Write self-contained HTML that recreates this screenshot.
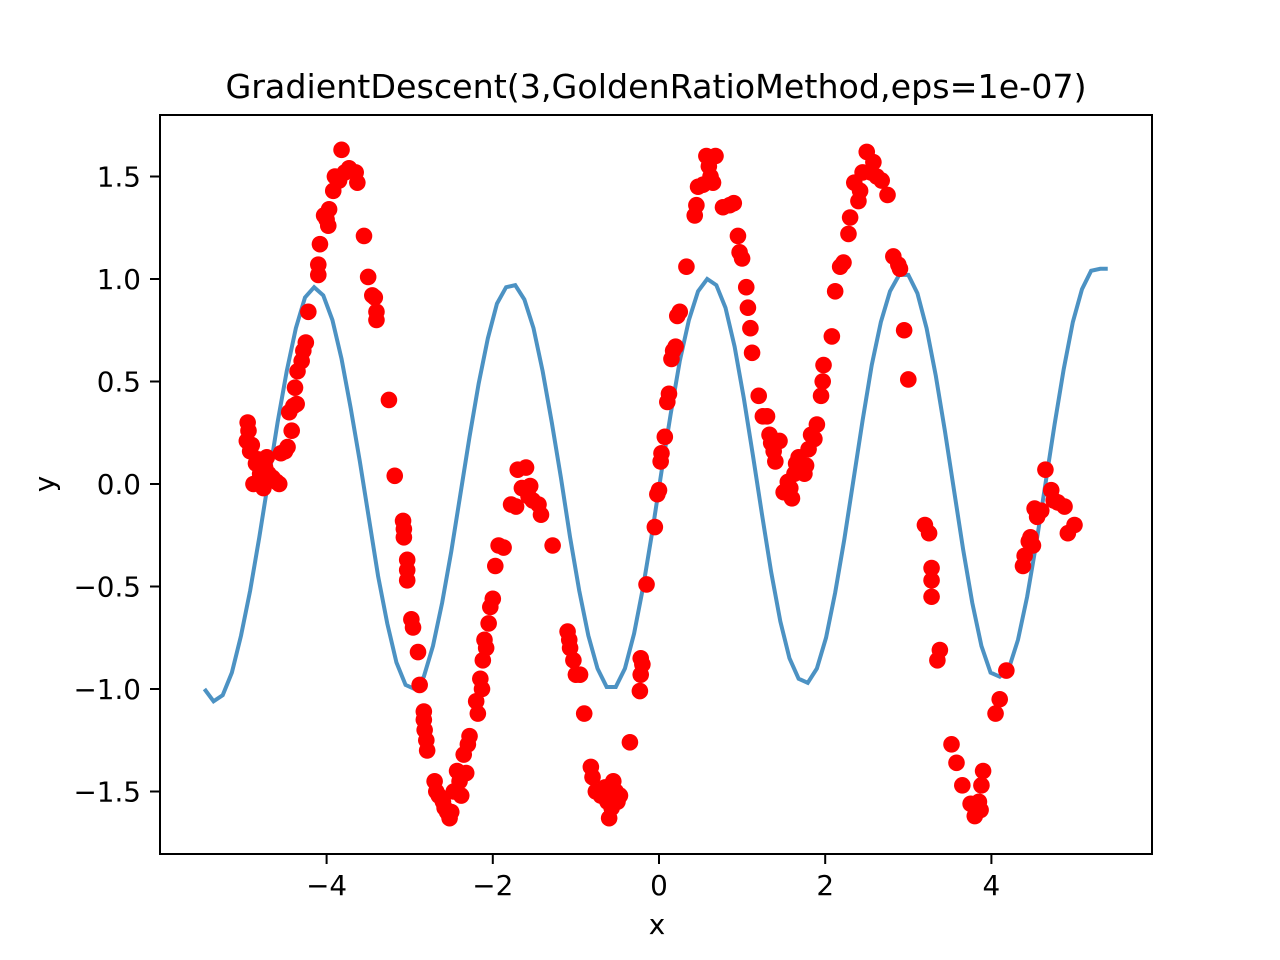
<!DOCTYPE html>
<html><head><meta charset="utf-8"><style>
html,body{margin:0;padding:0;background:#fff;}
svg{display:block;font-family:"DejaVu Sans","Liberation Sans",sans-serif;}
</style></head><body>
<svg id="chart" width="1280" height="960">
<rect x="0" y="0" width="1280" height="960" fill="#fff"/>
<text x="656" y="98" font-size="33.3" text-anchor="middle">GradientDescent(3,GoldenRatioMethod,eps=1e-07)</text>
<g id="xticks"></g>
<g id="yticks"></g>
<g id="plot"></g>
<rect x="160" y="115" width="992" height="739" fill="none" stroke="#000" stroke-width="2"/>
<text x="657" y="934" font-size="27.8" text-anchor="middle">x</text>
<text x="54" y="484" font-size="27.8" text-anchor="middle" transform="rotate(-90 54 484)">y</text>
</svg>
<script>
const xTicks=[-4,-2,0,2,4];
const yTicks=[-1.5,-1.0,-0.5,0.0,0.5,1.0,1.5];
const lineX=[-5.47,-5.36,-5.25,-5.14,-5.03,-4.92,-4.81,-4.7,-4.59,-4.48,-4.37,-4.26,-4.15,-4.04,-3.93,-3.82,-3.71,-3.6,-3.49,-3.38,-3.27,-3.16,-3.05,-2.94,-2.83,-2.72,-2.61,-2.5,-2.39,-2.28,-2.17,-2.06,-1.95,-1.84,-1.73,-1.62,-1.51,-1.4,-1.29,-1.18,-1.07,-0.96,-0.85,-0.74,-0.63,-0.52,-0.41,-0.3,-0.19,-0.08,0.03,0.14,0.25,0.36,0.47,0.58,0.69,0.8,0.91,1.02,1.13,1.24,1.35,1.46,1.57,1.68,1.79,1.9,2.01,2.12,2.23,2.34,2.45,2.56,2.67,2.78,2.89,3.0,3.11,3.22,3.33,3.44,3.55,3.66,3.77,3.88,3.99,4.1,4.21,4.32,4.43,4.54,4.65,4.76,4.87,4.98,5.09,5.2,5.31,5.4];
const lineY=[-1.0,-1.06,-1.03,-0.92,-0.74,-0.52,-0.26,0.02,0.3,0.55,0.76,0.91,0.96,0.92,0.8,0.61,0.37,0.11,-0.17,-0.45,-0.68,-0.87,-0.98,-1.0,-0.94,-0.79,-0.58,-0.33,-0.05,0.23,0.49,0.71,0.88,0.96,0.97,0.9,0.76,0.55,0.3,0.03,-0.26,-0.52,-0.74,-0.9,-0.99,-0.99,-0.9,-0.73,-0.5,-0.23,0.06,0.34,0.6,0.8,0.94,1.0,0.97,0.86,0.67,0.42,0.14,-0.15,-0.43,-0.67,-0.85,-0.95,-0.97,-0.9,-0.75,-0.53,-0.27,0.02,0.31,0.58,0.79,0.94,1.02,1.02,0.93,0.76,0.53,0.26,-0.03,-0.32,-0.58,-0.79,-0.92,-0.94,-0.9,-0.76,-0.55,-0.29,0.0,0.29,0.56,0.79,0.95,1.04,1.05,1.05];
const ptX=[-4.95,-4.94,-4.96,-4.92,-4.9,-4.88,-4.85,-4.82,-4.8,-4.78,-4.76,-4.74,-4.72,-4.7,-4.68,-4.65,-4.6,-4.57,-4.55,-4.5,-4.47,-4.45,-4.42,-4.4,-4.38,-4.36,-4.35,-4.3,-4.28,-4.25,-4.22,-4.1,-4.1,-4.08,-4.03,-4.0,-3.98,-3.97,-3.92,-3.9,-3.85,-3.82,-3.78,-3.73,-3.65,-3.63,-3.55,-3.5,-3.45,-3.42,-3.4,-3.4,-3.25,-3.18,-3.08,-3.07,-3.07,-3.03,-3.03,-3.03,-2.98,-2.96,-2.9,-2.88,-2.83,-2.83,-2.82,-2.8,-2.79,-2.7,-2.68,-2.65,-2.6,-2.58,-2.55,-2.52,-2.5,-2.47,-2.43,-2.4,-2.38,-2.35,-2.32,-2.3,-2.28,-2.2,-2.18,-2.15,-2.13,-2.12,-2.1,-2.08,-2.05,-2.03,-2.0,-1.97,-1.93,-1.87,-1.78,-1.72,-1.7,-1.65,-1.6,-1.57,-1.55,-1.52,-1.45,-1.42,-1.28,-1.1,-1.08,-1.07,-1.03,-1.0,-0.95,-0.9,-0.82,-0.8,-0.76,-0.7,-0.65,-0.62,-0.6,-0.57,-0.55,-0.52,-0.5,-0.47,-0.35,-0.23,-0.22,-0.22,-0.2,-0.15,-0.05,-0.02,0.0,0.02,0.03,0.07,0.1,0.12,0.15,0.17,0.2,0.22,0.25,0.33,0.43,0.45,0.47,0.53,0.57,0.6,0.62,0.65,0.68,0.77,0.85,0.9,0.95,0.97,1.0,1.05,1.07,1.1,1.12,1.2,1.25,1.3,1.33,1.35,1.38,1.4,1.45,1.5,1.55,1.58,1.6,1.63,1.65,1.68,1.7,1.75,1.77,1.8,1.83,1.87,1.9,1.95,1.97,1.98,2.08,2.12,2.18,2.22,2.28,2.3,2.35,2.4,2.42,2.45,2.5,2.55,2.58,2.62,2.68,2.75,2.82,2.88,2.9,2.95,3.0,3.2,3.25,3.28,3.28,3.28,3.35,3.38,3.52,3.58,3.65,3.75,3.8,3.85,3.87,3.88,3.9,4.05,4.1,4.18,4.38,4.4,4.45,4.47,4.5,4.52,4.55,4.6,4.65,4.72,4.75,4.8,4.88,4.92,5.0];
const ptY=[0.3,0.26,0.21,0.16,0.19,0.0,0.1,0.12,0.05,0.0,-0.02,0.08,0.13,0.05,0.02,0.03,0.01,0.0,0.15,0.16,0.18,0.35,0.26,0.38,0.47,0.39,0.55,0.6,0.65,0.69,0.84,1.02,1.07,1.17,1.31,1.29,1.26,1.34,1.43,1.5,1.48,1.63,1.52,1.54,1.52,1.47,1.21,1.01,0.92,0.91,0.84,0.8,0.41,0.04,-0.18,-0.22,-0.26,-0.37,-0.42,-0.47,-0.66,-0.7,-0.82,-0.98,-1.11,-1.15,-1.2,-1.25,-1.3,-1.45,-1.5,-1.52,-1.55,-1.58,-1.6,-1.63,-1.6,-1.5,-1.4,-1.45,-1.52,-1.32,-1.41,-1.27,-1.23,-1.06,-1.12,-0.95,-1.0,-0.86,-0.76,-0.8,-0.68,-0.6,-0.56,-0.4,-0.3,-0.31,-0.1,-0.11,0.07,-0.02,0.08,-0.06,-0.01,-0.08,-0.1,-0.15,-0.3,-0.72,-0.76,-0.8,-0.86,-0.93,-0.93,-1.12,-1.38,-1.43,-1.5,-1.52,-1.48,-1.55,-1.63,-1.58,-1.45,-1.5,-1.55,-1.52,-1.26,-1.01,-0.93,-0.85,-0.88,-0.49,-0.21,-0.05,-0.03,0.11,0.15,0.23,0.4,0.44,0.61,0.65,0.67,0.82,0.84,1.06,1.31,1.36,1.45,1.46,1.6,1.55,1.5,1.47,1.6,1.35,1.36,1.37,1.21,1.13,1.1,0.96,0.86,0.76,0.64,0.43,0.33,0.33,0.24,0.2,0.16,0.11,0.21,-0.04,0.01,-0.02,-0.07,0.05,0.1,0.13,0.07,0.05,0.09,0.17,0.24,0.22,0.29,0.43,0.5,0.58,0.72,0.94,1.06,1.08,1.22,1.3,1.47,1.38,1.43,1.52,1.62,1.52,1.57,1.5,1.48,1.41,1.11,1.07,1.05,0.75,0.51,-0.2,-0.24,-0.41,-0.47,-0.55,-0.86,-0.81,-1.27,-1.36,-1.47,-1.56,-1.62,-1.55,-1.59,-1.47,-1.4,-1.12,-1.05,-0.91,-0.4,-0.35,-0.28,-0.26,-0.3,-0.12,-0.16,-0.13,0.07,-0.03,-0.08,-0.09,-0.11,-0.24,-0.2];
const NS='http://www.w3.org/2000/svg';
function sx(v){return 659+v*83.1;}
function sy(v){return 484-v*205;}
const xg=document.getElementById('xticks'),yg=document.getElementById('yticks'),pg=document.getElementById('plot');
xTicks.forEach(t=>{
 const l=document.createElementNS(NS,'line');
 l.setAttribute('x1',sx(t));l.setAttribute('x2',sx(t));l.setAttribute('y1',854);l.setAttribute('y2',864);l.setAttribute('stroke','#000');l.setAttribute('stroke-width','2');
 
 
 xg.appendChild(l);
 const tx=document.createElementNS(NS,'text');
 tx.setAttribute('x',sx(t));tx.setAttribute('y',895);tx.setAttribute('font-size','27.8');tx.setAttribute('text-anchor','middle');
 tx.textContent=(t<0?'\u2212':'')+Math.abs(t);
 
 
 xg.appendChild(tx);
});
yTicks.forEach(t=>{
 const l=document.createElementNS(NS,'line');
 l.setAttribute('x1',150);l.setAttribute('x2',160);l.setAttribute('y1',sy(t));l.setAttribute('y2',sy(t));l.setAttribute('stroke','#000');l.setAttribute('stroke-width','2');
 
 
 yg.appendChild(l);
 const tx=document.createElementNS(NS,'text');
 tx.setAttribute('x',141);tx.setAttribute('y',sy(t)+10);tx.setAttribute('font-size','27.8');tx.setAttribute('text-anchor','end');
 tx.textContent=(t<0?'\u2212':'')+Math.abs(t).toFixed(1);
 
 
 yg.appendChild(tx);
});
const path=document.createElementNS(NS,'polyline');
path.setAttribute('points',lineX.map((x,i)=>sx(x)+','+sy(lineY[i])).join(' '));
path.setAttribute('fill','none');path.setAttribute('stroke','#1f77b4');path.setAttribute('stroke-opacity','0.8');path.setAttribute('stroke-width','4');


pg.appendChild(path);
ptX.forEach((x,i)=>{
 const c=document.createElementNS(NS,'circle');
 c.setAttribute('cx',sx(x));c.setAttribute('cy',sy(ptY[i]));c.setAttribute('r','8.3');c.setAttribute('fill','#ff0000');
 
 
 pg.appendChild(c);
});
</script>
</body></html>
